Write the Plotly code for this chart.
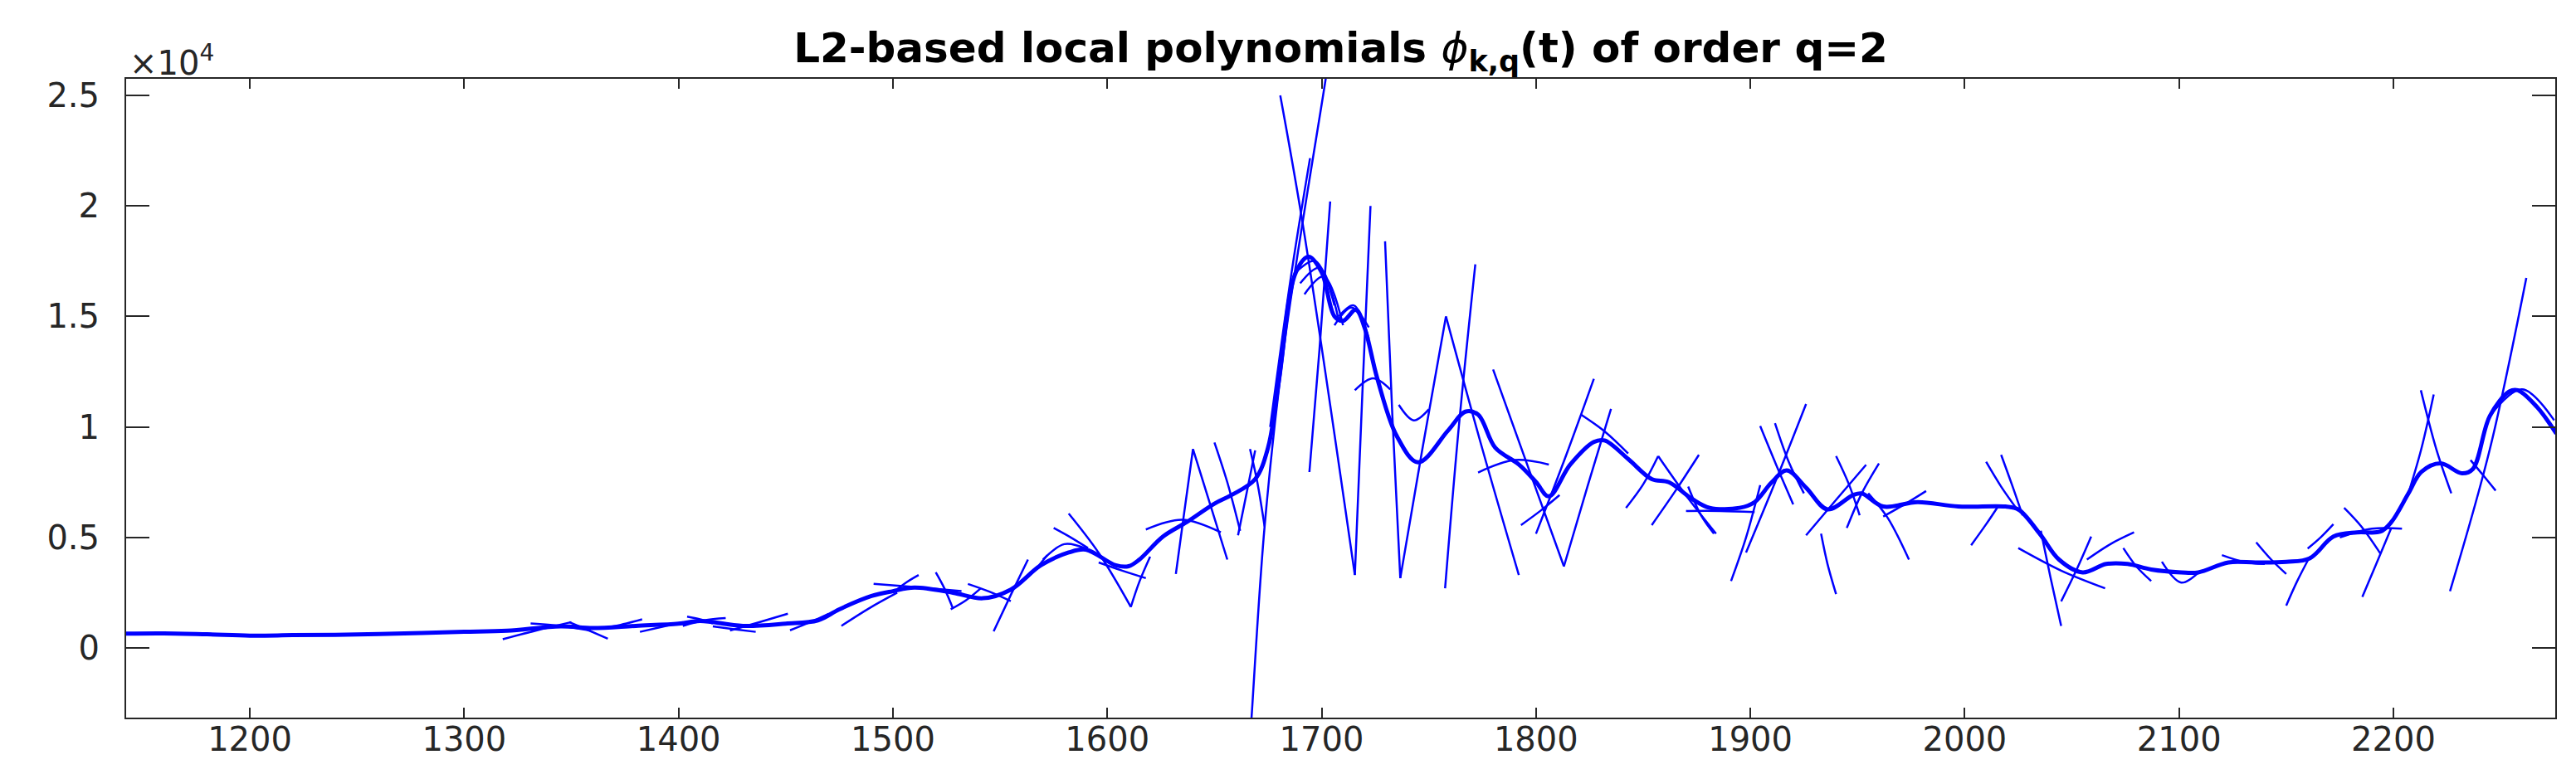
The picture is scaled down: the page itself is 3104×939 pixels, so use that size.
import plotly.graph_objects as go

# smooth band (overlapping centres of the local fits)
main_t = [1142, 1160, 1180, 1200, 1220, 1250, 1280, 1300, 1320, 1345, 1360, 1380, 1400, 1410,
          1430, 1450, 1465, 1475, 1490, 1500, 1510, 1528, 1542, 1555, 1569, 1582, 1590, 1604,
          1610, 1615, 1626, 1637, 1650, 1658, 1669, 1675, 1680, 1688, 1694, 1700, 1706, 1710,
          1716, 1720, 1726, 1735, 1745, 1759, 1767, 1773, 1781, 1792, 1800, 1806, 1816, 1827,
          1832, 1843, 1854, 1862, 1873, 1881, 1895, 1902, 1910, 1917, 1926, 1936, 1948, 1952,
          1962, 1978, 1997, 2019, 2025, 2035, 2044, 2055, 2066, 2076, 2087, 2101, 2109, 2123,
          2136, 2150, 2161, 2172, 2183, 2194, 2199, 2207, 2213, 2222, 2232, 2237, 2245, 2254,
          2258, 2267, 2276]
main_v = [650, 660, 620, 560, 580, 610, 680, 730, 780, 980, 900, 1000, 1100, 1220,
          1000, 1100, 1250, 1750, 2350, 2570, 2730, 2500, 2250, 2640, 3740, 4320, 4450, 3740,
          3700, 4000, 5040, 5690, 6530, 6920, 7640, 9060, 12050, 17000, 17700, 17000, 15000, 14800,
          15300, 14500, 12180, 9600, 8400, 9840, 10690, 10560, 9060, 8300, 7510, 6860, 8300, 9320,
          9390, 8550, 7640, 7500, 6730, 6340, 6340, 6600, 7500, 8030, 7250, 6270, 6920, 6990,
          6400, 6600, 6400, 6400, 6270, 5170, 4000, 3420, 3800, 3800, 3550, 3420, 3420, 3870,
          3870, 3900, 4060, 5040, 5230, 5270, 5690, 6990, 7960, 8350, 7900, 8090, 10500, 11600,
          11660, 10900, 9700]

# individual local polynomials: (t points, values)
seg_t = [
    [1318, 1334, 1350], [1331, 1345, 1359], [1349, 1358, 1367], [1363, 1373, 1383],
    [1382, 1392, 1402], [1404, 1410, 1416], [1402, 1412, 1422], [1416, 1426, 1436],
    [1424, 1437, 1451], [1452, 1461, 1470],
    [1476, 1489, 1502], [1491, 1511, 1532], [1500, 1506, 1512], [1520, 1524, 1528],
    [1527, 1534, 1541], [1535, 1545, 1555], [1547, 1555, 1563], [1558, 1565, 1572],
    [1570, 1580, 1590], [1575, 1583, 1591], [1582, 1596, 1611], [1611, 1615, 1620],
    [1596, 1607, 1618], [1618, 1635, 1653], [1632, 1636, 1640], [1640, 1648, 1656],
    [1650, 1656, 1662], [1661, 1665, 1669], [1666.6, 1670, 1673.4],
    [1666.5, 1667.2, 1673.4, 1683, 1701.9, 1703],
    [1680.7, 1691.5, 1715.5], [1676, 1686, 1694.6], [1694.3, 1699, 1704],
    [1715.5, 1719, 1722.8], [1729.6, 1733, 1736.7], [1736.7, 1747, 1758],
    [1757.6, 1764, 1771.7], [1758, 1775, 1792], [1780, 1797, 1813],
    [1715.5, 1724, 1732], [1736, 1743, 1750], [1773, 1790, 1806],
    [1688, 1697, 1706], [1690, 1699, 1708], [1692, 1701, 1710],
    [1706, 1714, 1722], [1708, 1715, 1722],
    [1793, 1802, 1811], [1800, 1814, 1827], [1813, 1824, 1835], [1821, 1832, 1843],
    [1842, 1850, 1857], [1857, 1870, 1884], [1854, 1865, 1876], [1870, 1886, 1902],
    [1871, 1877, 1883], [1891, 1898, 1904.6], [1898, 1912, 1926], [1904.6, 1912, 1920],
    [1911.5, 1918, 1925], [1933, 1936, 1940], [1926, 1940, 1954], [1940, 1946, 1951],
    [1945, 1952, 1960], [1955, 1964, 1974], [1962, 1972, 1982],
    [2003, 2010, 2016], [2010, 2017, 2025], [2017, 2022, 2027], [2035.5, 2040, 2045],
    [2025, 2045, 2065.5], [2045, 2052, 2059], [2057, 2068, 2079], [2074, 2080, 2087],
    [2092, 2101, 2110], [2120, 2130, 2140], [2136, 2143, 2150], [2150, 2155, 2161],
    [2160, 2166, 2172], [2177, 2185, 2194], [2185.5, 2192, 2199], [2175, 2190, 2204],
    [2212.8, 2220, 2227], [2207, 2213, 2218.8], [2226.4, 2245, 2262],
    [2236, 2242, 2247.7], [2245, 2260, 2275],
]
seg_v = [
    [400, 800, 1170], [1110, 1000, 790], [1170, 800, 420], [880, 1050, 1300],
    [730, 950, 1170], [1420, 1300, 1110], [1000, 1250, 1350], [980, 850, 730],
    [790, 1150, 1550], [800, 1150, 1550],
    [1000, 1800, 2500], [2900, 2750, 2570], [2500, 2950, 3300], [3420, 2700, 1790],
    [1750, 2150, 2700], [2900, 2550, 2120], [750, 2400, 4000], [2800, 3400, 4200],
    [4000, 4700, 4500], [5430, 5000, 4520], [6080, 4300, 1860], [1860, 3000, 4130],
    [3870, 3500, 3160], [5360, 5800, 5230], [3350, 6200, 9000], [9000, 6500, 4000],
    [9300, 7500, 5300], [5100, 7000, 8940], [9000, 7500, 5500],
    [-4200, -3300, 5500, 14000, 25750, 26500],
    [25000, 19000, 3300], [10000, 17000, 22160], [7960, 13500, 20200],
    [3300, 11500, 20000], [18400, 10500, 3160], [3160, 9000, 15000],
    [2700, 10000, 17360], [15000, 9000, 3300], [12600, 8000, 3700],
    [11660, 12200, 11700], [11000, 10300, 10800], [7940, 8500, 8300],
    [17000, 17500, 15500], [16500, 17200, 14800], [16000, 16800, 14600],
    [14600, 15400, 14500], [15000, 15500, 14000],
    [5560, 6200, 6920], [5170, 8700, 12180], [3680, 7300, 10820], [10560, 9800, 8800],
    [6340, 7400, 8680], [8680, 6900, 5170], [5560, 7100, 8740], [6200, 6200, 6150],
    [7300, 6000, 5170], [3030, 5000, 7370], [4320, 7600, 11040], [10040, 8300, 6500],
    [10170, 8400, 7000], [5170, 3800, 2440], [5100, 6700, 8290], [8680, 7400, 6000],
    [5430, 7000, 8350], [7000, 5900, 4000], [5950, 6500, 7100],
    [4650, 5600, 6470], [8420, 7300, 6200], [8740, 7400, 6000], [5300, 3200, 1000],
    [4520, 3500, 2700], [2110, 3500, 5040], [4000, 4700, 5230], [4520, 3700, 3030],
    [3900, 2960, 3500], [4200, 3900, 3800], [4780, 4000, 3350], [1920, 3000, 4130],
    [4500, 5000, 5600], [6340, 5500, 4260], [2310, 3800, 5430], [5000, 5400, 5400],
    [11660, 9000, 7000], [7000, 9000, 11470], [2570, 9000, 16740],
    [8500, 7800, 7120], [10500, 11700, 10300],
]

y_ticks = [0, 5000, 10000, 15000, 20000, 25000]
y_labels = ["0", "0.5", "1", "1.5", "2", "2.5"]
x_ticks = [1200, 1300, 1400, 1500, 1600, 1700, 1800, 1900, 2000, 2100, 2200]

BLUE = "#0000ff"
AX = "#262626"
FONT = "DejaVu Sans, Liberation Sans, Arial, sans-serif"

xs, ys = [], []
for t, v in zip(seg_t, seg_v):
    xs += t + [None]
    ys += v + [None]

fig = go.Figure()
fig.add_trace(go.Scatter(x=xs, y=ys, mode="lines", line=dict(color=BLUE, width=2.5, shape="spline"),
                         connectgaps=False, hoverinfo="skip"))
fig.add_trace(go.Scatter(x=main_t, y=main_v, mode="lines", line=dict(color=BLUE, width=5, shape="spline"),
                         hoverinfo="skip"))

fig.update_layout(
    width=3104, height=939,
    margin=dict(l=144, r=33, t=87, b=82),
    paper_bgcolor="white", plot_bgcolor="white",
    showlegend=False,
    font=dict(family=FONT, color=AX, size=40),
    title=dict(text="<b>L2-based local polynomials </b><i>ϕ</i><b><sub>k,q</sub>(t) of order q=2</b>",
               x=0.5, xref="paper", xanchor="center", y=0.947, yanchor="middle",
               font=dict(family=FONT, size=50, color="black")),
)
fig.update_xaxes(range=[1142.3, 2275.5], tickvals=x_ticks, ticks="inside", ticklen=12, tickwidth=2,
                 tickcolor=AX, showline=True, linecolor=AX, linewidth=2, mirror="ticks",
                 showgrid=False, zeroline=False, ticklabelstandoff=-10,
                 tickfont=dict(family=FONT, size=40, color=AX))
fig.update_yaxes(range=[-3150, 25750], tickvals=y_ticks, ticktext=y_labels, ticks="inside", ticklen=28,
                 tickwidth=2, tickcolor=AX, showline=True, linecolor=AX, linewidth=2, mirror="ticks",
                 showgrid=False, zeroline=False, ticklabelstandoff=22,
                 tickfont=dict(family=FONT, size=40, color=AX))

fig.add_annotation(text="×10<sup>4</sup>", xref="paper", yref="paper", x=0, y=1.0, xanchor="left",
                   yanchor="bottom", showarrow=False, font=dict(family=FONT, size=40, color=AX),
                   xshift=2, yshift=-6)

fig.write_html("out.html")
